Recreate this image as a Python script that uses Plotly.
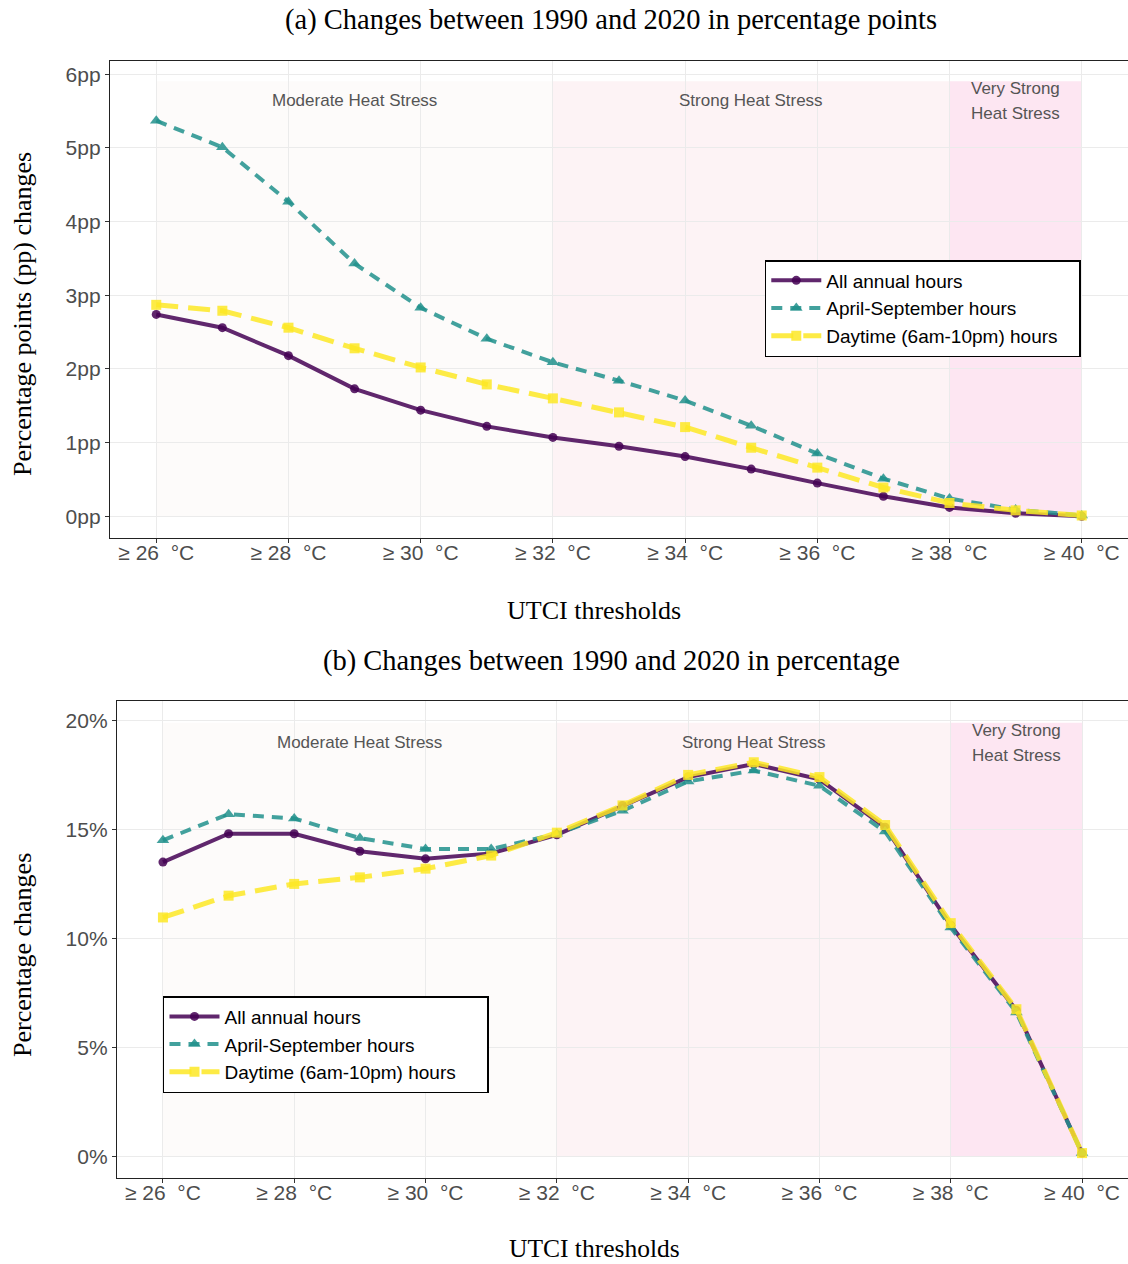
import plotly.graph_objects as go

# ---------------- data ----------------
thresholds = list(range(26, 41))
tick_vals = [26, 28, 30, 32, 34, 36, 38, 40]
tick_text = ["≥ 26\u00a0\u00a0°C", "≥ 28\u00a0\u00a0°C", "≥ 30\u00a0\u00a0°C", "≥ 32\u00a0\u00a0°C",
             "≥ 34\u00a0\u00a0°C", "≥ 36\u00a0\u00a0°C", "≥ 38\u00a0\u00a0°C", "≥ 40\u00a0\u00a0°C"]

series_names = ["All annual hours", "April-September hours", "Daytime (6am-10pm) hours"]

# (a) changes in percentage points
pp_all = [2.74, 2.56, 2.18, 1.73, 1.44, 1.22, 1.07, 0.95, 0.81, 0.64, 0.45, 0.27, 0.12, 0.04, 0.00]
pp_aprsep = [5.37, 5.01, 4.27, 3.43, 2.83, 2.41, 2.09, 1.84, 1.57, 1.23, 0.85, 0.51, 0.24, 0.09, 0.01]
pp_day = [2.87, 2.79, 2.56, 2.28, 2.02, 1.79, 1.60, 1.41, 1.21, 0.93, 0.66, 0.39, 0.18, 0.08, 0.01]
pp_ticks = [0, 1, 2, 3, 4, 5, 6]
pp_ticktext = ["0pp", "1pp", "2pp", "3pp", "4pp", "5pp", "6pp"]

# (b) changes in percentage
pc_all = [13.5, 14.8, 14.8, 14.0, 13.65, 13.9, 14.75, 16.1, 17.4, 18.0, 17.3, 15.1, 10.6, 6.7, 0.15]
pc_aprsep = [14.5, 15.7, 15.5, 14.6, 14.1, 14.1, 14.8, 15.85, 17.2, 17.7, 17.0, 14.9, 10.5, 6.6, 0.15]
pc_day = [10.96, 11.96, 12.5, 12.8, 13.2, 13.8, 14.85, 16.1, 17.5, 18.08, 17.4, 15.2, 10.7, 6.75, 0.15]
pc_ticks = [0, 5, 10, 15, 20]
pc_ticktext = ["0%", "5%", "10%", "15%", "20%"]

bands = [("Moderate Heat Stress", 26, 32), ("Strong Heat Stress", 32, 38), ("Very Strong|Heat Stress", 38, 40)]
band_colors = ["#fdfbfa", "#fdf3f5", "#fde6f2"]

# ---------------- styling ----------------
colors = ["rgba(68,1,84,0.85)", "rgba(33,144,140,0.85)", "rgba(253,231,37,0.85)"]
dashes = ["solid", "11px,8px", "22px,10px"]
widths = [4, 4, 5]
symbols = ["circle", "triangle-up", "square"]
msizes = [9, 11, 10]
SANS = "Liberation Sans"
SERIF = "Liberation Serif"

fig = go.Figure()

panels = [
    dict(data=[pp_all, pp_aprsep, pp_day], xa="x", ya="y", legend="legend", pad="\u00a0\u00a0\u00a0"),
    dict(data=[pc_all, pc_aprsep, pc_day], xa="x2", ya="y2", legend="legend2", pad="\u00a0\u00a0\u00a0\u00a0\u00a0"),
]

for p in panels:
    for i, name in enumerate(series_names):
        fig.add_trace(go.Scatter(
            x=thresholds, y=p["data"][i], name=name + p["pad"], mode="lines+markers",
            line=dict(color=colors[i], width=widths[i], dash=dashes[i]),
            marker=dict(symbol=symbols[i], size=msizes[i], color=colors[i]),
            xaxis=p["xa"], yaxis=p["ya"], legend=p["legend"], showlegend=True,
        ))
    ymax = max(max(d) for d in p["data"])
    for (label, x0, x1), bc in zip(bands, band_colors):
        fig.add_shape(type="rect", xref=p["xa"], yref=p["ya"], x0=x0, x1=x1, y0=0, y1=ymax * 1.1,
                      fillcolor=bc, line_width=0, layer="below")
        xm = (x0 + x1) / 2
        parts = label.split("|")
        if len(parts) == 1:
            fig.add_annotation(x=xm, y=ymax * 1.05, xref=p["xa"], yref=p["ya"], text=parts[0],
                               showarrow=False, font=dict(family=SANS, size=17, color="#555555"))
        else:
            for k, t in enumerate(parts):
                fig.add_annotation(x=xm, y=ymax * 1.05, xref=p["xa"], yref=p["ya"], text=t,
                                   showarrow=False, yshift=12.5 - 25 * k,
                                   font=dict(family=SANS, size=17, color="#555555"))

axis_common = dict(
    showline=True, mirror=True, linecolor="#222222", linewidth=1.3,
    ticks="outside", ticklen=4, tickcolor="#333333", tickwidth=1,
    showgrid=True, gridcolor="#ebebeb", gridwidth=1, zeroline=False,
    tickfont=dict(family=SANS, size=21, color="#4d4d4d"), automargin=False,
)

legend_common = dict(xanchor="left", yanchor="top", bgcolor="white",
                     bordercolor="black", borderwidth=1.5, font=dict(family=SANS, size=19, color="black"),
                     tracegroupgap=0, itemwidth=50)

fig.update_layout(
    width=1128, height=1264,
    margin=dict(l=0, r=0, t=0, b=0, pad=0),
    paper_bgcolor="white", plot_bgcolor="white",
    xaxis=dict(domain=[0.0975, 1.0], range=[25.3, 40.7], tickvals=tick_vals, ticktext=tick_text,
               anchor="y", ticklabelstandoff=-8, **axis_common),
    yaxis=dict(domain=[0.5744, 0.9517], range=[-0.295, 6.18], tickvals=pp_ticks, ticktext=pp_ticktext,
               anchor="x", **axis_common),
    xaxis2=dict(domain=[0.1037, 1.0], range=[25.3, 40.7], tickvals=tick_vals, ticktext=tick_text,
                anchor="y2", ticklabelstandoff=-8, **axis_common),
    yaxis2=dict(domain=[0.0680, 0.4454], range=[-0.995, 20.89], tickvals=pc_ticks, ticktext=pc_ticktext,
                anchor="x2", **axis_common),
    legend=dict(x=0.678, y=0.7943, **legend_common),
    legend2=dict(x=0.1445, y=0.212, **legend_common),
)

# titles
titles = [
    ("(a) Changes between 1990 and 2020 in percentage points", 0.542, 1 - 20 / 1264, 28.5),
    ("(b) Changes between 1990 and 2020 in percentage", 0.542, 1 - 661 / 1264, 28.5),
    ("UTCI thresholds", 0.527, 1 - 610 / 1264, 26),
    ("UTCI thresholds", 0.527, 1 - 1248 / 1264, 25.5),
]
for t, x, y, s in titles:
    fig.add_annotation(text=t, x=x, y=y, xref="paper", yref="paper", showarrow=False,
                       xanchor="center", yanchor="middle",
                       font=dict(family=SERIF, size=s, color="black"))
for t, y in [("Percentage points (pp) changes", 1 - 314 / 1264), ("Percentage changes", 1 - 955 / 1264)]:
    fig.add_annotation(text=t, x=22 / 1128, y=y, xref="paper", yref="paper", showarrow=False,
                       textangle=-90, xanchor="center", yanchor="middle",
                       font=dict(family=SERIF, size=26, color="black"))

fig.write_html("out.html")
